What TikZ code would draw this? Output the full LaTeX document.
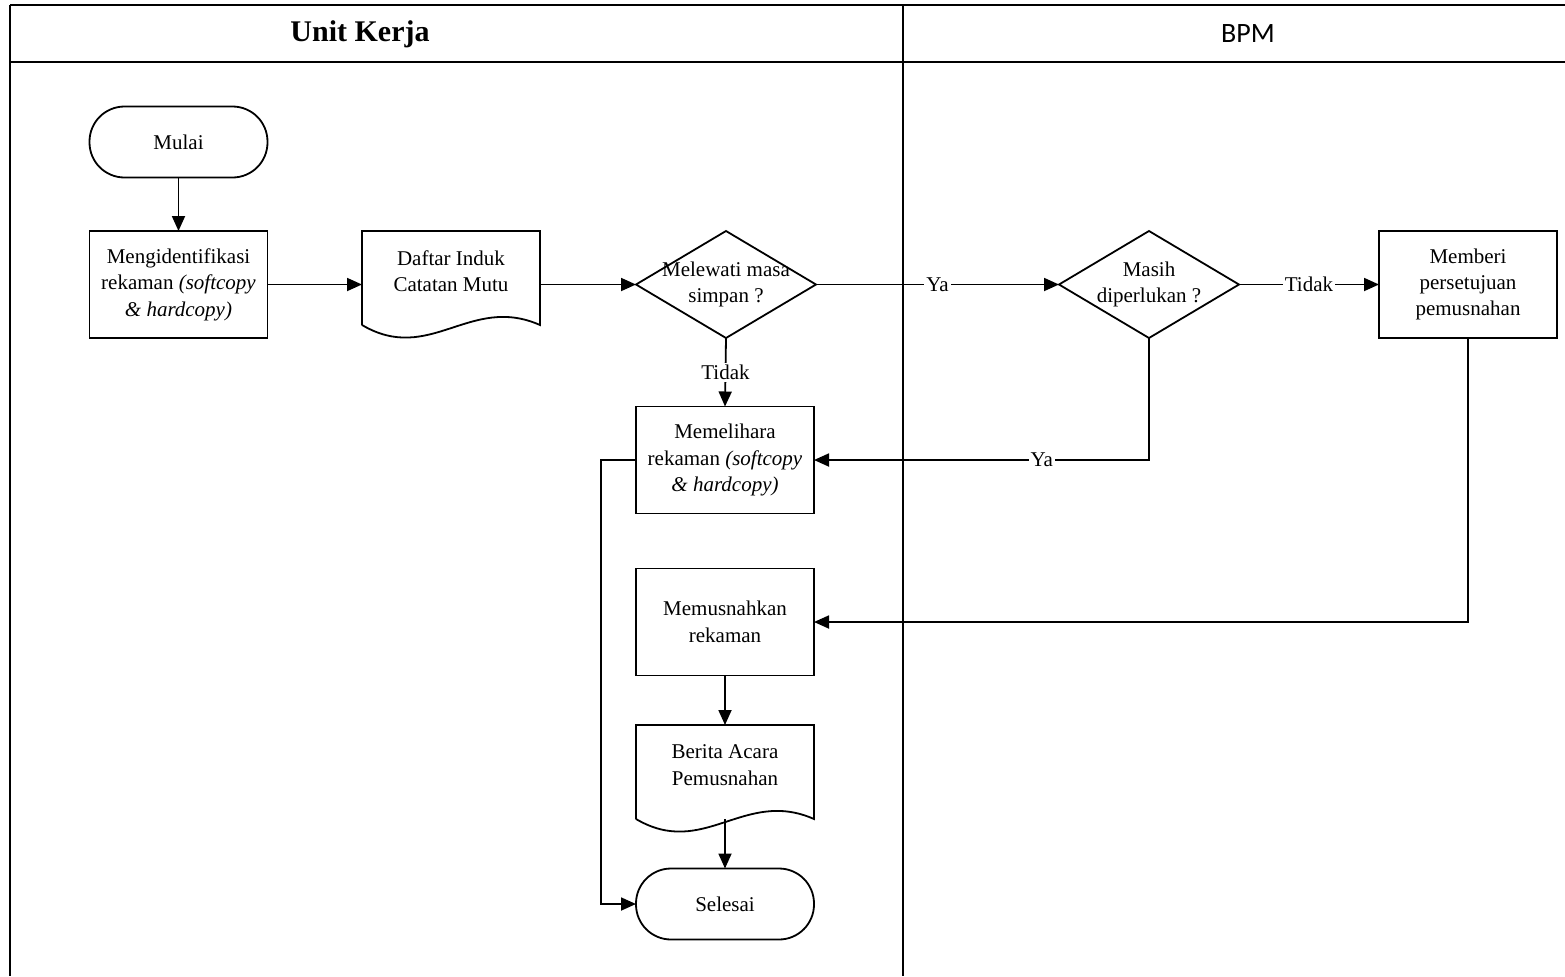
\documentclass[tikz,border=0pt]{standalone}
\usepackage{fontspec}
\setmainfont{Liberation Serif}
\newfontfamily\hdrsans{Carlito}
\usetikzlibrary{arrows.meta,calc}
\newcommand\docoutline[1]{%
  \draw[shapeline] ($(#1.south west)+(0,14)$) -- (#1.north west) -- (#1.north east) -- ($(#1.south east)+(0,14)$)
    .. controls ($(#1.south east)+(-70,-17)$) and ($(#1.south west)+(68,54)$) .. ($(#1.south west)+(0,14)$);}
\newcommand\diamoutline[1]{%
  \draw[shapeline] (#1.north) -- (#1.east) -- (#1.south) -- (#1.west) -- cycle;}
\begin{document}
\begin{tikzpicture}[x=0.5pt,y=-0.5pt,
  shapeline/.style={line width=0.9pt},
  procbox/.style={draw, line width=0.9pt, minimum width=89pt, minimum height=53.5pt,
    align=center, inner sep=2pt, outer sep=0pt, font=\fontsize{10.5}{13.2}\selectfont},
  termbox/.style={procbox, rounded corners=17.5pt, minimum height=35.5pt},
  docbox/.style={procbox, draw=none, minimum height=40pt},
  decbox/.style={procbox, draw=none, minimum width=90pt},
  flow/.style={line width=0.9pt, -{Triangle[length=7.5pt,width=6.5pt]}},
  lbl/.style={fill=white, inner sep=1pt, font=\fontsize{10.5}{13.2}\selectfont}]
\useasboundingbox (0,0) rectangle (1565,976);
\fill[white] (0,0) rectangle (1565,976);
% frame
\draw[line width=1.3pt] (10,5) -- (1565,5);
\draw[line width=1pt] (10,62) -- (1565,62);
\draw[line width=1pt] (10,5) -- (10,976);
\draw[line width=0.9pt] (903,5) -- (903,976);
\node[font=\bfseries\fontsize{15}{18}\selectfont] (hUK) at (360,34) {Unit Kerja};
\node[font=\hdrsans\fontsize{14}{16}\selectfont] (hBPM) at (1248,34) {BPM};
% nodes
\node[termbox] (mulai) at (178.5,142) {Mulai};
\node[procbox] (ident) at (178.5,284.5) {Mengidentifikasi\\rekaman \textit{(softcopy}\\\textit{\& hardcopy)}};
\node[docbox] (daftar) at (451,271) {Daftar Induk\\Catatan Mutu};
\docoutline{daftar}
\node[decbox] (melewati) at (726,284.5) {Melewati masa\\simpan ?};
\diamoutline{melewati}
\node[decbox] (masih) at (1149,284.5) {Masih\\diperlukan ?};
\diamoutline{masih}
\node[procbox] (memberi) at (1468,284.5) {Memberi\\persetujuan\\pemusnahan};
\node[procbox] (memelihara) at (725,460) {Memelihara\\rekaman \textit{(softcopy}\\\textit{\& hardcopy)}};
\node[procbox] (memusnahkan) at (725,622) {Memusnahkan\\rekaman};
\node[docbox] (berita) at (725,765) {Berita Acara\\Pemusnahan};
\docoutline{berita}
\node[termbox] (selesai) at (725,904) {Selesai};
% connectors
\draw[flow] (mulai) -- (ident);
\draw[flow] (ident.east) -- (ident.east -| daftar.west);
\draw[flow] (daftar.east |- melewati.west) -- (melewati.west);
\draw[flow] (melewati.east) -- node[lbl]{Ya} (masih.west);
\draw[flow] (masih.east) -- node[lbl]{Tidak} (memberi.west);
\draw[flow] (melewati.south) -- node[lbl]{Tidak} (memelihara.north);
\draw[flow] (masih.south) |- node[lbl,pos=0.66]{Ya} (memelihara.east);
\draw[flow] (memberi.south) |- (memusnahkan.east);
\draw[flow] (memusnahkan) -- (berita);
\draw[flow, shorten <=7pt] (berita.south) -- (selesai.north);
\draw[flow] (memelihara.west) -- ++(-35,0) |- (selesai.west);
\end{tikzpicture}
\end{document}
